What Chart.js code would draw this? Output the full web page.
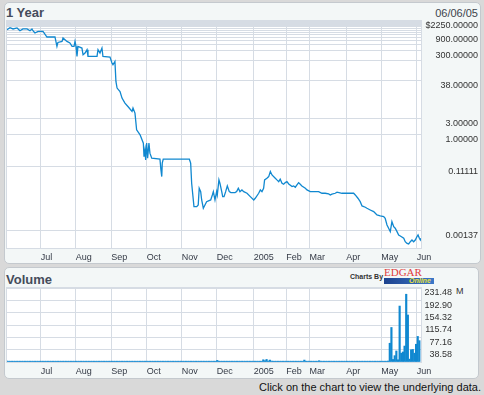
<!DOCTYPE html>
<html>
<head>
<meta charset="utf-8">
<script src="https://cdn.jsdelivr.net/npm/chart.js@4.4.0/dist/chart.umd.min.js"></script>
<style>
  body { margin:0; width:484px; height:395px; background:#d9d9d9; position:relative; overflow:hidden;
         font-family:"Liberation Sans", Arial, sans-serif; }
  .panel { position:absolute; box-sizing:border-box; background:#f3f7f7; border:1px solid #c4c9ce; border-radius:5px; }
  .title { position:absolute; font-weight:bold; font-size:13px; color:#454c5b; line-height:15px; }
  .txt { position:absolute; white-space:nowrap; }
  canvas { position:absolute; left:0; }
</style>
</head>
<body>
<div class="panel" style="left:4px;top:2px;width:477px;height:262px;"></div>
<div class="panel" style="left:4px;top:267px;width:475px;height:112px;"></div>

<div class="title" style="left:6px;top:5px;">1 Year</div>
<div class="txt" style="right:6px;top:7px;font-size:11px;color:#40444c;">06/06/05</div>
<div class="title" style="left:6px;top:272px;">Volume</div>

<div class="txt" style="left:350px;top:273px;font-size:7px;font-weight:bold;color:#333;">Charts By</div>
<div class="txt" style="left:384px;top:266px;font-size:11px;font-family:'Liberation Serif',serif;color:#e0403c;">EDGAR</div>
<div class="txt" style="left:384px;top:278px;width:50px;height:6px;background:linear-gradient(90deg,#1c428f,#3c78c8);"></div>
<div class="txt" style="left:409px;top:277px;font-size:7px;line-height:8px;font-style:italic;font-weight:bold;color:#e8e23a;">Online</div>

<div class="txt" style="left:456px;top:286px;font-size:9px;line-height:11px;color:#333;">M</div>

<div class="txt" style="right:3px;top:381px;font-size:11px;line-height:13px;color:#111;">Click on the chart to view the underlying data.</div>

<canvas id="price" width="484" height="266" style="top:0;"></canvas>
<canvas id="volume" width="484" height="114" style="top:266px;"></canvas>

<script>
// month gridlines, in trading-session units
var monthTicks  = [20.5, 41.8, 63.5, 85, 106.3, 127.6, 150.2, 170, 184.2, 206.5, 227.8, 249.4];
var monthLabels = ['Jul', 'Aug', 'Sep', 'Oct', 'Nov', 'Dec', '2005', 'Feb', 'Mar', 'Apr', 'May', 'Jun'];

// price axis: gridlines and labelled ticks
var priceGrid = [0.00137, 0.11111, 1, 3, 38, 150, 300, 450, 600, 750, 900, 1050, 1200, 1350,
                 1500, 1650, 1800, 1950, 2100, 2250];
var priceLabelValues = [0.00137, 0.11111, 1, 3, 38, 300, 900, 2250];
var priceLabelText   = ['0.00137', '0.11111', '1.00000', '3.00000', '38.00000', '300.00000',
                        '900.00000', '$2250.00000'];

// volume axis
var volGrid   = [0, 38.58, 77.16, 115.74, 154.32, 192.90, 231.48];
var volLabels = ['', '38.58', '77.16', '115.74', '154.32', '192.90', '231.48'];

// price series (session, price)
var priceDay = [0, 1.8, 3.7, 6.1, 7.9, 9.7, 12.2, 14, 15.2, 15.8, 17, 18.9, 21.9, 23.7, 24.3, 29.2,
  30.4, 31, 33.5, 34.1, 36.5, 38.3, 39.6, 40.8, 41.4, 42, 42.6, 43.2, 45.6, 46.3, 47.5, 48.7, 49.3,
  54.8, 55.4, 56.6, 57.8, 58.4, 62.7, 63.9, 64.5, 65.7, 66.3, 67, 68.8, 70, 71.8, 73.6, 76.1, 76.7,
  77.9, 78.9, 81, 83, 83.4, 84, 84.4, 85, 85.6, 86.4, 87, 88.1, 93.1, 93.7, 94.2, 94.5, 95.1, 111,
  111.8, 112.4, 113, 113.8, 115.5, 116.4, 117, 117.9, 118.5, 119.5, 120.5, 121.5, 124, 125, 125.6,
  126.6, 127.6, 128, 129, 129.6, 130.7, 131.3, 132.1, 133.1, 134.1, 135.3, 136.3, 138.8, 139.8,
  140.8, 141.8, 143, 144.1, 146.1, 148.1, 150.2, 151.1, 153.2, 154.2, 155.2, 156.2, 156.8, 158.2,
  159.3, 160.3, 161.3, 163.3, 164.3, 165.4, 166.3, 167.4, 168.4, 169.4, 170.4, 171.5, 173.5, 174.5,
  175.5, 176.5, 177.5, 178.5, 179.5, 181.6, 182.6, 184.6, 189.7, 191.7, 193.7, 195.8, 196.8, 197.8,
  199.8, 200.9, 203.9, 211, 212, 213.6, 215, 216.1, 218.1, 219.1, 221.1, 223.2, 224.2, 225.2, 227.2,
  229.3, 230.2, 231.3, 232.3, 233.3, 234.3, 235.4, 236.3, 237.4, 238.4, 239.4, 241.5, 242.4, 243.5,
  244.5, 245.5, 246.5, 247.5, 248.5, 249.5, 250.2, 251, 251.6, 252];
var priceVal = [1245, 1426, 1306, 1397, 1161, 1306, 1306, 1161, 1306, 1161, 993, 1109, 1109, 826,
  756, 756, 397, 522, 560, 706, 560, 501, 397, 397, 560, 397, 201, 397, 356, 225, 253, 317, 201,
  201, 317, 253, 356, 201, 193, 128, 114, 143, 36.4, 23.2, 18.4, 11.7, 8.32, 6.59, 4.69, 5.91,
  4.20, 1.34, 0.953, 0.541, 0.216, 0.342, 0.173, 0.541, 0.194, 0.541, 0.273, 0.194, 0.181, 0.0873,
  0.0552, 0.138, 0.181, 0.181, 0.138, 0.0352, 0.0177, 0.00711, 0.00711, 0.00798, 0.0250, 0.0198,
  0.0112, 0.00637, 0.00798, 0.0100, 0.0112, 0.0158, 0.0198, 0.0112, 0.0198, 0.0158, 0.0441, 0.0352,
  0.0198, 0.0141, 0.0141, 0.0198, 0.0292, 0.0198, 0.0185, 0.0185, 0.0198, 0.025, 0.0198, 0.0222,
  0.0198, 0.0177, 0.0141, 0.0112, 0.0126, 0.0177, 0.0222, 0.0198, 0.025, 0.0441, 0.0494, 0.0552,
  0.0777, 0.0619, 0.0494, 0.0441, 0.0392, 0.0462, 0.0352, 0.0328, 0.0366, 0.0392, 0.0335, 0.0279,
  0.0292, 0.0267, 0.0313, 0.0366, 0.0328, 0.0292, 0.025, 0.0222, 0.0198, 0.0198, 0.0177, 0.0177,
  0.0169, 0.0158, 0.0166, 0.0177, 0.0190, 0.0177, 0.0177, 0.0158, 0.0126, 0.0100, 0.00745, 0.00682,
  0.00637, 0.00567, 0.00505, 0.00453, 0.00403, 0.00377, 0.00359, 0.00322, 0.00204, 0.00163, 0.00129,
  0.00255, 0.00181, 0.00163, 0.00129, 0.00103, 0.00096, 0.00082, 0.00065, 0.00058, 0.00056, 0.00065,
  0.00073, 0.00065, 0.00073, 0.00091, 0.00103, 0.00082, 0.00073, 0.00082];

// daily volume, millions, one per session
var volume = [
  2.5,2.5,2.5,2.5,2.5,2.5,2.5,2.5,2.5,2.5,2.5,2.5,2.5,2.5,2.5,2.5,2.5,2.5,2.5,2.5,2.5,
  2.5,2.5,2.5,2.5,2.5,2.5,2.5,2.5,2.5,2.5,2.5,2.5,2.5,2.5,2.5,2.5,2.5,2.5,2.5,2.5,2.5,
  2.5,2.5,2.5,2.5,2.5,2.5,2.5,2.5,2.5,2.5,2.5,2.5,2.5,2.5,2.5,2.5,2.5,2.5,2.5,2.5,2.5,
  2.5,2.5,2.5,2.5,2.5,2.5,2.5,2.5,2.5,2.5,2.5,2.5,2.5,2.5,2.5,2.5,2.5,2.5,2.5,2.5,2.5,
  2.5,2.5,2.5,2.5,2.5,2.5,2.5,2.5,2.5,2.5,2.5,2.5,2.5,2.5,2.5,2.5,2.5,2.5,2.5,2.5,2.5,
  2.5,2.5,2.5,2.5,2.5,2.5,2.5,2.5,2.5,2.5,2.5,2.5,2.5,2.5,2.5,2.5,2.5,2.5,2.5,2.5,2.5,
  2.5,2.5,5,2.5,2.5,2.5,2.5,2.5,2.5,2.5,2.5,2.5,2.5,2.5,2.5,2.5,2.5,2.5,2.5,2.5,2.5,
  2.5,2.5,2.5,2.5,2.5,2.5,2.5,2.5,2.5,7,4,8,3,6,3,2.5,2.5,2.5,2.5,2.5,2.5,
  2.5,2.5,2.5,2.5,2.5,2.5,2.5,2.5,2.5,2.5,2.5,2.5,2.5,6,2.5,2.5,2.5,2.5,2.5,2.5,2.5,
  2.5,4,2.5,2.5,2.5,2.5,2.5,2.5,2.5,2.5,2.5,2.5,2.5,2.5,2.5,2.5,2.5,2.5,2.5,2.5,2.5,
  2.5,2.5,2.5,2.5,2.5,2.5,2.5,2.5,2.5,2.5,2.5,2.5,2.5,2.5,2.5,2.5,2.5,2.5,2.5,2.5,2.5,
  2.5,3,58.7,108,8,19.8,34.5,7,175,27.6,31.4,49.9,212,147,9,38.3,39.2,27.6,55.5,80,66.8
];

var lineBlue = '#1088d0';
var gridColor = '#d6dce4';
var tickFont = { family: '"Liberation Sans", Arial, sans-serif', size: 9 };

var plotBg = {
  id: 'plotBg',
  beforeDraw: function(chart) {
    var ctx = chart.ctx, a = chart.chartArea;
    ctx.save();
    ctx.fillStyle = '#ffffff';
    ctx.fillRect(a.left, a.top, a.right - a.left, a.bottom - a.top);
    ctx.strokeStyle = gridColor;
    ctx.lineWidth = 1;
    ctx.strokeRect(a.left - 0.5, a.top - 0.5, a.right - a.left + 1, a.bottom - a.top + 1);
    ctx.restore();
  }
};

function monthAxis() {
  return {
    type: 'linear', min: 0, max: 252, offset: false,
    grid: { color: gridColor, drawTicks: false, offset: false },
    border: { display: false },
    afterBuildTicks: function(scale) {
      scale.ticks = monthTicks.map(function(v) { return { value: v }; });
    },
    afterFit: function(scale) { scale.height = 18; },
    ticks: {
      align: 'start', padding: 4, maxRotation: 0, autoSkip: false,
      color: '#343a46', font: tickFont,
      callback: function(v, i) { return monthLabels[i]; }
    }
  };
}

Chart.defaults.animation = false;

new Chart(document.getElementById('price'), {
  type: 'line',
  data: {
    datasets: [{
      data: priceDay.map(function(d, i) { return { x: d, y: priceVal[i] }; }),
      borderColor: lineBlue, borderWidth: 1.3, pointRadius: 0, tension: 0, fill: false
    }]
  },
  options: {
    responsive: false, devicePixelRatio: 1,
    layout: { padding: { left: 7, right: 6, top: 21, bottom: 0 } },
    plugins: { legend: { display: false }, tooltip: { enabled: false } },
    scales: {
      x: monthAxis(),
      y: {
        type: 'logarithmic', position: 'right', min: 0.000423, max: 2250,
        grid: { color: gridColor, drawTicks: false },
        border: { display: false },
        afterBuildTicks: function(scale) {
          scale.ticks = priceGrid.map(function(v) { return { value: v }; });
        },
        afterFit: function(scale) { scale.width = 57; },
        ticks: {
          autoSkip: false, crossAlign: 'far', labelOffset: 5,
          color: '#333', font: tickFont,
          callback: function(v) {
            for (var i = 0; i < priceLabelValues.length; i++) {
              if (Math.abs(v - priceLabelValues[i]) / priceLabelValues[i] < 1e-6) return priceLabelText[i];
            }
            return '';
          }
        }
      }
    }
  },
  plugins: [plotBg]
});

new Chart(document.getElementById('volume'), {
  type: 'bar',
  data: {
    datasets: [{
      data: volume.map(function(v, i) { return { x: i, y: v }; }),
      backgroundColor: lineBlue, barThickness: 1.5, grouped: false, borderWidth: 0
    }]
  },
  options: {
    responsive: false, devicePixelRatio: 1,
    layout: { padding: { left: 7, right: 32, top: 22, bottom: 0 } },
    plugins: { legend: { display: false }, tooltip: { enabled: false } },
    scales: {
      x: monthAxis(),
      y: {
        min: 0, max: 231.48,
        grid: { color: gridColor, drawTicks: false },
        border: { display: false },
        position: 'right',
        afterBuildTicks: function(scale) {
          scale.ticks = volGrid.map(function(v) { return { value: v }; });
        },
        afterFit: function(scale) { scale.width = 31; },
        ticks: {
          autoSkip: false, crossAlign: 'far', labelOffset: 5,
          color: '#333', font: tickFont,
          callback: function(v, i) { return volLabels[i]; }
        }
      }
    }
  },
  plugins: [plotBg]
});
</script>
</body>
</html>
